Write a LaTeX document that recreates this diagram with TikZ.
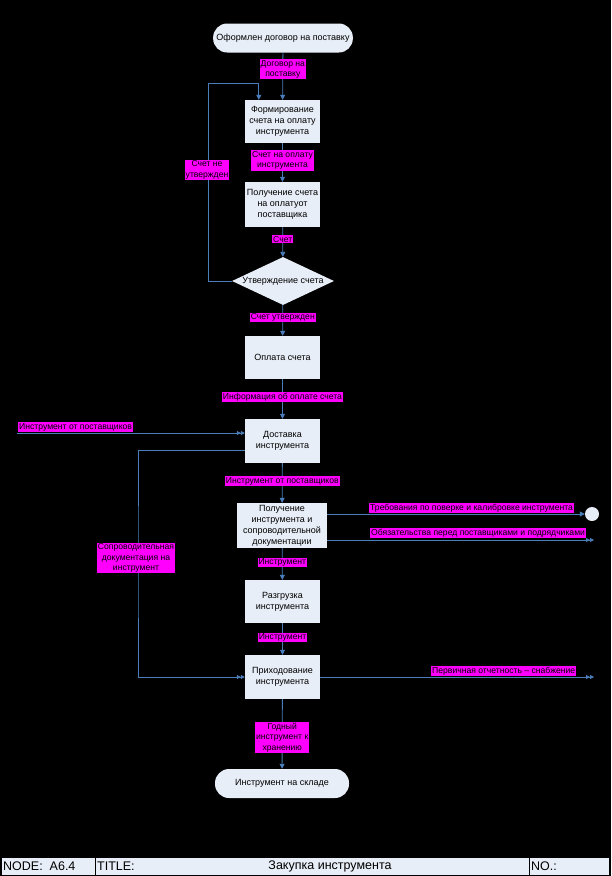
\documentclass[tikz,border=0pt]{standalone}
\usepackage{fontspec}
\setmainfont{Liberation Sans}
\usetikzlibrary{arrows.meta,shapes.geometric}

\definecolor{boxfill}{HTML}{E8EEF7}
\definecolor{flowline}{HTML}{4A7EBB}
\definecolor{lblfill}{HTML}{FF00FF}

\tikzset{
	blok/.style={rectangle, fill=boxfill, minimum width=75pt, minimum height=43pt, inner sep=1pt, align=center, font=\fontsize{9}{11}\selectfont},
	term/.style={rectangle, rounded corners=14pt, fill=boxfill, minimum width=134pt, minimum height=29pt, font=\fontsize{9}{11}\selectfont},
	metka/.style={rectangle, fill=lblfill, inner sep=1pt, align=center, font=\fontsize{8.6}{10.5}\selectfont},
	podval/.style={inner sep=0pt, font=\fontsize{12.5}{14}\selectfont},
	potok/.style={draw=flowline, line width=0.8pt, -{Triangle[length=5pt,width=5pt,fill=flowline]}},
	potokdbl/.style={draw=flowline, line width=0.8pt, -{Triangle[length=4pt,width=4pt,fill=flowline]Triangle[length=4pt,width=4pt,fill=flowline]}}
}

\begin{document}
\begin{tikzpicture}[x=1pt,y=-1pt]
				\useasboundingbox (0,0) rectangle (611,876);
				\fill[black] (0,0) rectangle (611,876);
				
				% blocks
				\node[term] (start) at (283,38) {Оформлен договор на поставку};
				\node[blok] (formir) at (282.5,121.5) {Формирование\\счета на оплату\\инструмента};
				\node[blok, minimum height=45pt] (polschet) at (282.5,204.5) {Получение счета\\на оплатуот\\поставщика};
				\node[diamond, fill=boxfill, minimum width=102pt, minimum height=48pt, aspect=2.1, inner sep=0pt, font=\fontsize{9}{11}\selectfont] (utv) at (283,281) {Утверждение счета};
				\node[blok] (oplata) at (282.5,357.5) {Оплата счета};
				\node[blok, minimum height=44pt] (dostavka) at (282.5,441) {Доставка\\инструмента};
				\node[blok, minimum width=90pt, minimum height=45pt] (polinstr) at (282,525.5) {Получение\\инструмента и\\сопроводительной\\документации};
				\node[blok] (razgr) at (282.5,601.5) {Разгрузка\\инструмента};
				\node[blok, minimum height=44pt] (prikhod) at (282.5,677) {Приходование\\инструмента};
				\node[term] (finish) at (282,783.5) {Инструмент на складе};
				\node[circle, fill=boxfill, minimum size=14pt, inner sep=0pt] (tunnel) at (592,514) {};
				
				% free ends
				\coordinate (loopL) at (208,83);
				\coordinate (inL) at (17,433);
				\coordinate (docX) at (138,560);
				\coordinate (outB) at (594,540);
				\coordinate (outC) at (594,677);
				
				% flows
				\draw[potok] (start) -- node[metka, pos=0.35]{Договор на\\поставку} (formir);
				\draw[potok] (formir) -- node[metka, pos=0.45]{Счет на оплату\\инструмента} (polschet);
				\draw[potok] (polschet) -- node[metka, pos=0.4]{Счет} (utv);
				\draw[potok] (utv.west) -| (loopL) -| ([xshift=14pt]formir.north west);
				\node[metka] at (207,170) {Счет не\\утвержден};
				\draw[potok] (utv) -- node[metka, pos=0.4]{Счет утвержден} (oplata);
				\draw[potok] (oplata) -- node[metka, pos=0.45]{Информация об оплате счета} (dostavka);
				\draw[potokdbl] (inL) -- (inL -| dostavka.west);
				\node[metka, anchor=south west] at (18,432) {Инструмент от поставщиков};
				\draw[potok] (dostavka) -- node[metka, pos=0.45]{Инструмент от поставщиков} (polinstr);
				\draw[potokdbl] ([yshift=-9pt]dostavka.west) -| (docX) |- (prikhod.west);
				\node[metka] at (136,558) {Сопроводительная\\документация на\\инструмент};
				\draw[potok] ([yshift=11.5pt]polinstr.east) -- (tunnel);
				\node[metka, anchor=south west] at (369,513) {Требования по поверке и калибровке инструмента};
				\draw[potokdbl] ([yshift=-14.5pt]polinstr.east) -- (outB);
				\node[metka, anchor=south west] at (370,538) {Обязательства перед поставщиками и подрядчиками};
				\draw[potok] (polinstr) -- node[metka, pos=0.45]{Инструмент} (razgr);
				\draw[potok] (razgr) -- node[metka, pos=0.45]{Инструмент} (prikhod);
				\draw[potokdbl] (prikhod.east) -- (outC);
				\node[metka, anchor=south west] at (431,676) {Первичная отчетность – снабжение};
				\draw[potok] (prikhod) -- node[metka, pos=0.55]{Годный\\инструмент к\\хранению} (finish);
				
				% footer
				\draw[black, fill=boxfill] (1,857) rectangle (609,875);
				\draw[black] (95,857) -- (95,875);
				\draw[black] (529,857) -- (529,875);
				\node[podval, anchor=west] at (3,866) {NODE:\ \ A6.4};
				\node[podval, anchor=west] at (97,866) {TITLE:};
				\node[podval] at (330,866) {Закупка инструмента};
				\node[podval, anchor=west] at (531,866) {NO.:};
			\end{tikzpicture}
\end{document}
